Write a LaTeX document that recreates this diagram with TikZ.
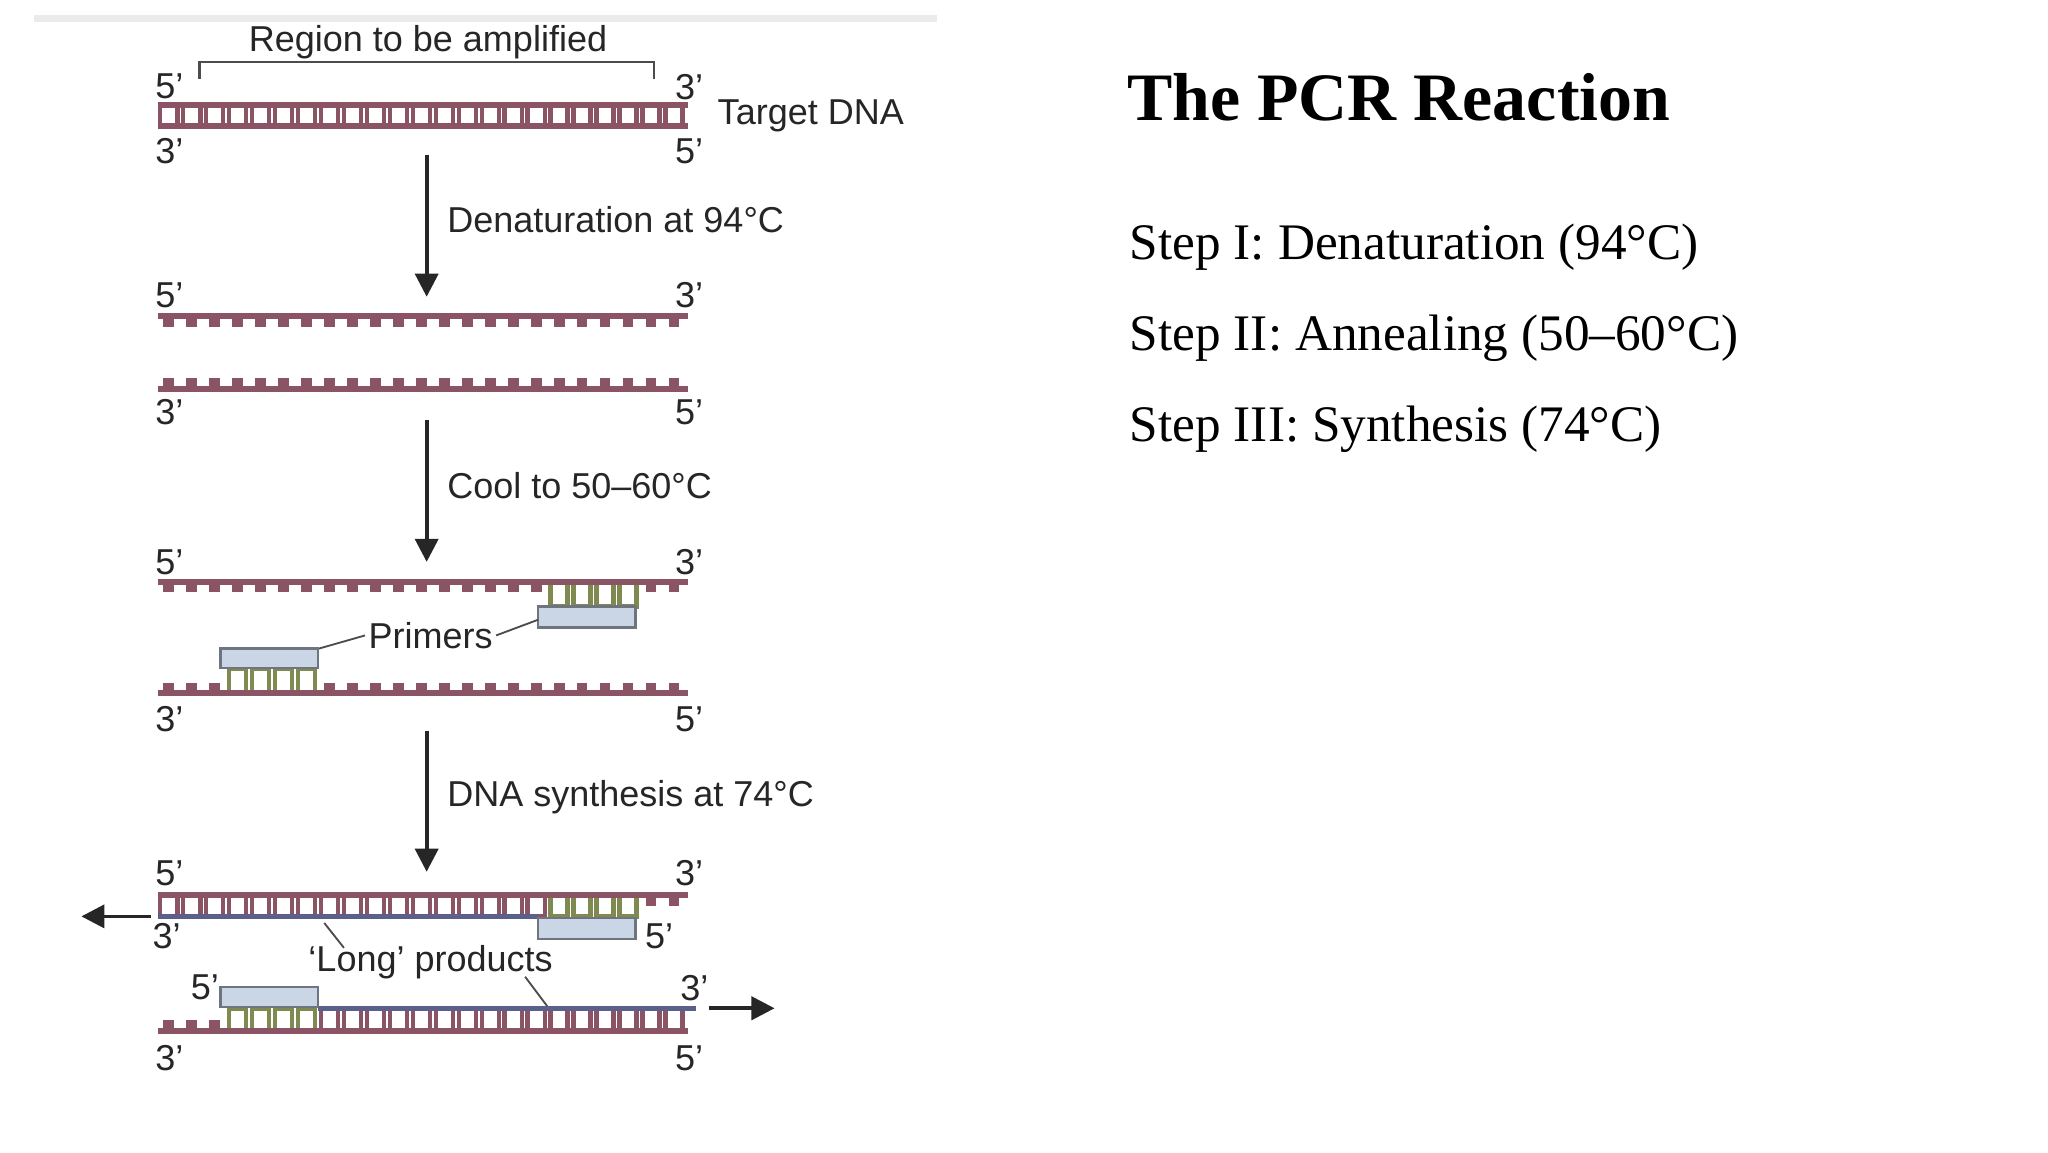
\documentclass[tikz,border=0pt]{standalone}
\usepackage{fontspec}
\setmainfont{Liberation Serif}
\setsansfont{Liberation Sans}
\usetikzlibrary{arrows.meta}
\definecolor{maroon}{HTML}{8A5464}
\definecolor{primfill}{HTML}{CAD6E6}
\definecolor{primline}{HTML}{6E7480}
\definecolor{newstr}{HTML}{5A5F8C}
\definecolor{rungg}{HTML}{7F8A50}
\begin{document}
\begin{tikzpicture}[x=0.01cm,y=-0.01cm,
  lab/.style={font=\sffamily\fontsize{7.8}{9}\selectfont,text=black!85,inner sep=0pt},
  prime/.style={font=\sffamily\fontsize{7.8}{9}\selectfont,text=black!85,inner sep=0pt},
  bb/.style={draw=maroon,line width=1.3pt},
  nb/.style={draw=newstr,line width=1.1pt},
  rungbox/.style={draw=maroon,fill=white,line width=1pt},
  prbox/.style={draw=primline,fill=primfill,line width=0.5pt},
  flow/.style={draw=black!85,line width=0.8pt,-{Triangle[length=5pt,width=5pt]}},
  lead/.style={draw=black!70,line width=0.4pt},
  stepl/.style={font=\fontsize{11.1}{13}\selectfont,anchor=base west,inner sep=0pt}]
\useasboundingbox (0,0) rectangle (1560,877.5);
\fill[white] (0,0) rectangle (1560,877.5);
\draw[black!8,line width=1.4pt] (26,14) -- (714,14);
% region
\node[lab] (reg) at (326,32) {Region to be amplified};
\draw[black!70,line width=0.5pt] (152,60) -- (152,47) -- (498,47) -- (498,60);
% set 1
\node[prime] (a5) at (129,66) {5’};
\node[prime] (a3) at (525,66) {3’};
\node[prime] (a3b) at (129,115) {3’};
\node[prime] (a5b) at (525,115) {5’};
\node[lab,anchor=west] (tdna) at (546,88) {Target DNA};
\foreach \i in {0,...,22}{\draw[rungbox] ({128.5+17.5*\i-6.5},80) rectangle ({128.5+17.5*\i+6.5},96);}
\draw[bb] (120,80) -- (524,80);
\draw[bb] (120,96) -- (524,96);
% arrow 1
\coordinate (r1s) at (325,118); \coordinate (r1e) at (325,226);
\draw[flow] (r1s) -- (r1e);
\node[lab,anchor=west] (den) at (340,167) {Denaturation at 94°C};
% set 2
\node[prime] (b5) at (129,225) {5’};
\node[prime] (b3) at (525,225) {3’};
\foreach \i in {0,...,22}{\fill[maroon] ({128.5+17.5*\i-4},241) rectangle ({128.5+17.5*\i+4},249);
  \fill[maroon] ({128.5+17.5*\i-4},288) rectangle ({128.5+17.5*\i+4},296);}
\draw[bb] (120,241) -- (524,241);
\draw[bb] (120,296) -- (524,296);
\node[prime] (b3b) at (129,314) {3’};
\node[prime] (b5b) at (525,314) {5’};
% arrow 2
\coordinate (r2s) at (325,320); \coordinate (r2e) at (325,428);
\draw[flow] (r2s) -- (r2e);
\node[lab,anchor=west] (cool) at (340,370) {Cool to 50–60°C};
% set 3
\node[prime] (c5) at (129,428) {5’};
\node[prime] (c3) at (525,428) {3’};
\foreach \i in {0,...,22}{
  \pgfmathsetmacro{\xx}{128.5+17.5*\i}
  \ifnum\i>16 \ifnum\i<21
    \draw[rungbox,draw=rungg] (\xx-6.5,443) rectangle (\xx+6.5,462);
  \else \fill[maroon] (\xx-4,443) rectangle (\xx+4,451); \fi
  \else \fill[maroon] (\xx-4,443) rectangle (\xx+4,451); \fi
  \ifnum\i>2 \ifnum\i<7
    \draw[rungbox,draw=rungg] (\xx-6.5,509) rectangle (\xx+6.5,528);
  \else \fill[maroon] (\xx-4,520) rectangle (\xx+4,528); \fi
  \else \fill[maroon] (\xx-4,520) rectangle (\xx+4,528); \fi}
\draw[bb] (120,443) -- (524,443);
\draw[bb] (120,528) -- (524,528);
\draw[prbox] (410,462) rectangle (484,478);
\draw[prbox] (168,494) rectangle (242,509);
\coordinate (p1) at (410,472); \coordinate (p2) at (243,494);
\node[lab] (prim) at (328,484) {Primers};
\draw[lead] (prim.east) ++(2,0) -- (p1);
\draw[lead] (prim.west) ++(-2,0) -- (p2);
\node[prime] (c3b) at (129,548) {3’};
\node[prime] (c5b) at (525,548) {5’};
% arrow 3
\coordinate (r3s) at (325,557); \coordinate (r3e) at (325,664);
\draw[flow] (r3s) -- (r3e);
\node[lab,anchor=west] (syn) at (340,607) {DNA synthesis at 74°C};
% set 4 top
\node[prime] (d5) at (129,665) {5’};
\node[prime] (d3) at (525,665) {3’};
\foreach \i in {0,...,22}{
  \pgfmathsetmacro{\xx}{128.5+17.5*\i}
  \ifnum\i<21 \draw[rungbox,draw=\ifnum\i>16 rungg\else maroon\fi] (\xx-6.5,682) rectangle (\xx+6.5,698);
  \else \fill[maroon] (\xx-4,682) rectangle (\xx+4,690); \fi}
\draw[bb] (120,682) -- (524,682);
\draw[nb] (120,698) -- (410,698);
\draw[prbox] (410,699) rectangle (484,715);
\coordinate (la1) at (115,698); \coordinate (la2) at (62,698);
\draw[flow] (la1) -- (la2);
\node[prime] (d3b) at (127,713) {3’};
\node[prime] (d5b) at (502,713) {5’};
\node[lab] (long) at (328,733) {‘Long’ products};
\coordinate (l1) at (247,703); \coordinate (l2) at (418,768);
\draw[lead] (262,722) -- (l1);
\draw[lead] (400,744) -- (l2);
% set 4 bottom
\node[prime] (e5) at (156,752) {5’};
\node[prime] (e3) at (529,753) {3’};
\foreach \i in {0,...,22}{
  \pgfmathsetmacro{\xx}{128.5+17.5*\i}
  \ifnum\i>2 \draw[rungbox,draw=\ifnum\i<7 rungg\else maroon\fi] (\xx-6.5,768) rectangle (\xx+6.5,785);
  \else \fill[maroon] (\xx-4,777) rectangle (\xx+4,785); \fi}
\draw[bb] (120,785) -- (524,785);
\draw[nb] (242,768) -- (530,768);
\draw[prbox] (168,752) rectangle (242,767);
\coordinate (ra1) at (540,768); \coordinate (ra2) at (590,768);
\draw[flow] (ra1) -- (ra2);
\node[prime] (e3b) at (129,806) {3’};
\node[prime] (e5b) at (525,806) {5’};
% right text
\node[anchor=base west,inner sep=0pt,font=\bfseries\fontsize{14.7}{17}\selectfont] (title) at (858,92) {The PCR Reaction};
\node[stepl] (s1) at (860,198) {Step I: Denaturation (94°C)};
\node[stepl] (s2) at (860,267) {Step II: Annealing (50–60°C)};
\node[stepl] (s3) at (860,336) {Step III: Synthesis (74°C)};
\end{tikzpicture}
\end{document}
